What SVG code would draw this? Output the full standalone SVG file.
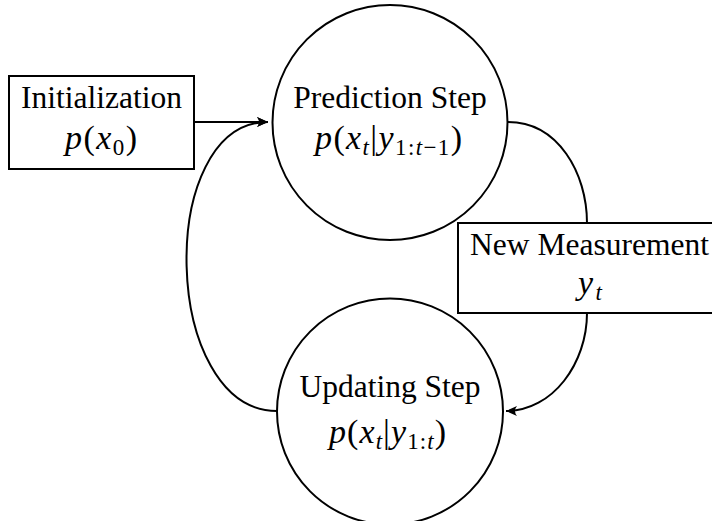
<svg xmlns="http://www.w3.org/2000/svg" width="712" height="521" viewBox="0 0 712 521">
<style>
.shape{fill:#fff;stroke:#000;stroke-width:2}
.edge{fill:none;stroke:#000;stroke-width:2}
.lbl{font-family:"Liberation Serif","Times New Roman",serif;font-size:31.5px;fill:#000;text-anchor:middle}
.math{font-family:"Liberation Serif","Times New Roman",serif;font-size:34px;fill:#000}
.it{font-style:italic}
.sub{font-size:23px}
</style>
<defs>
<marker id="arr" viewBox="-12 -6 14 12" refX="0" refY="0" markerWidth="14" markerHeight="12" markerUnits="userSpaceOnUse" orient="auto">
<path d="M0,0 L-11,-5 Q-7,0 -11,5 Z" fill="#000"/>
</marker>
</defs>
<rect width="712" height="521" fill="#fff"/>
<g id="connectors">
<path class="edge" d="M194,122 L268,122" marker-end="url(#arr)"/>
<path class="edge" d="M277,411 C161,411 155,122 268,122" marker-end="url(#arr)"/>
<path class="edge" d="M508,122 C558,122 587,173 587,223"/>
<path class="edge" d="M587,313 C587,363 553,411 506,411" marker-end="url(#arr)"/>
</g>
<g id="init">
<rect class="shape" x="9" y="76" width="185" height="93"/>
<text class="lbl" x="101.5" y="108">Initialization</text>
<text class="math" x="65" y="149" textLength="72" lengthAdjust="spacing"><tspan class="it">p</tspan>(<tspan class="it">x</tspan><tspan class="sub" dy="6">0</tspan><tspan dy="-6">)</tspan></text>
</g>
<g id="prediction">
<circle class="shape" cx="390" cy="122.5" r="117.5"/>
<text class="lbl" x="390" y="108">Prediction Step</text>
<text class="math" x="315" y="149" textLength="147" lengthAdjust="spacing"><tspan class="it">p</tspan>(<tspan class="it">x</tspan><tspan class="sub it" dy="6">t</tspan><tspan dy="-6">|</tspan><tspan class="it">y</tspan><tspan class="sub" dy="6">1:<tspan class="it">t</tspan>−1</tspan><tspan dy="-6">)</tspan></text>
</g>
<g id="measurement">
<rect class="shape" x="458" y="223" width="264" height="90"/>
<text class="lbl" x="589.5" y="255">New Measurement</text>
<text class="math" x="578" y="294" textLength="24" lengthAdjust="spacing"><tspan class="it">y</tspan><tspan class="sub it" dy="6">t</tspan></text>
</g>
<g id="updating">
<circle class="shape" cx="390" cy="411.5" r="113"/>
<text class="lbl" x="390" y="397">Updating Step</text>
<text class="math" x="329" y="443" textLength="117" lengthAdjust="spacing"><tspan class="it">p</tspan>(<tspan class="it">x</tspan><tspan class="sub it" dy="6">t</tspan><tspan dy="-6">|</tspan><tspan class="it">y</tspan><tspan class="sub" dy="6">1:<tspan class="it">t</tspan></tspan><tspan dy="-6">)</tspan></text>
</g>
</svg>
